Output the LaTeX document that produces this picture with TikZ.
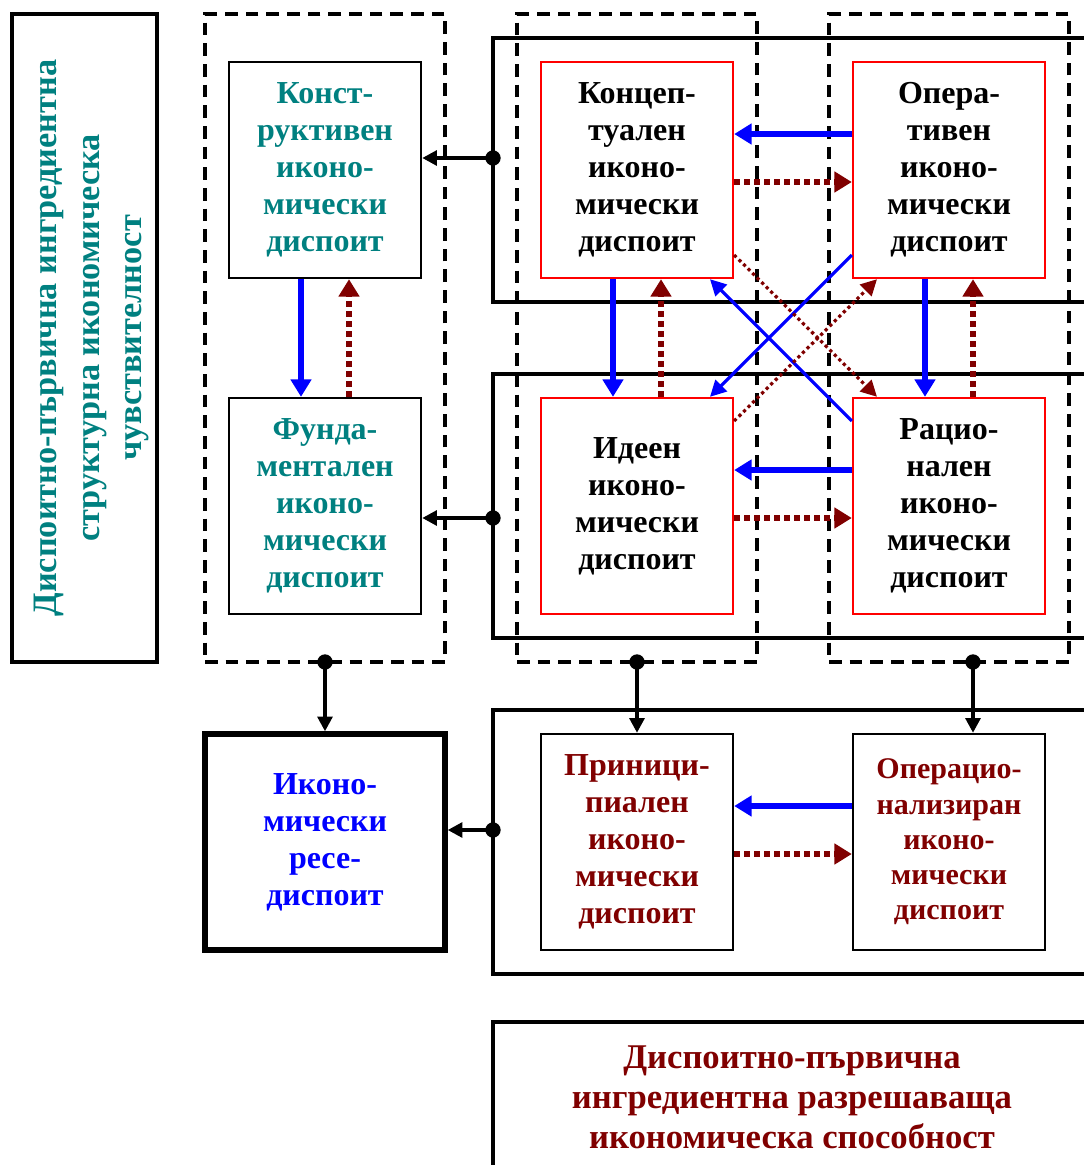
\documentclass[tikz,border=0pt]{standalone}
\usepackage{fontspec}
\setmainfont{Liberation Serif}
\usetikzlibrary{arrows.meta,calc}
\definecolor{tealc}{RGB}{0,128,128}
\definecolor{dred}{RGB}{128,0,0}
\definecolor{myblue}{RGB}{0,0,255}
\definecolor{myred}{RGB}{255,0,0}
\begin{document}
\begin{tikzpicture}[x=0.75pt,y=-0.75pt,
  txt/.style={font=\bfseries\fontsize{24}{27.75}\selectfont, align=center},
  box/.style={draw, line width=1.8pt, minimum width=144pt, minimum height=162pt, inner sep=0pt, txt},
  rbox/.style={box, draw=myred},
  dbox/.style={draw, line width=2.6pt, dash pattern=on 9.5pt off 6pt, minimum width=180pt, minimum height=486pt, inner sep=0pt},
  grp/.style={line width=2.6pt},
  conn/.style={line width=2.8pt, -{Triangle[length=11pt,width=11pt]}},
  dot/.style={circle, fill, inner sep=0pt, minimum size=11.5pt},
  bl/.style={myblue, line width=3.8pt, -{Triangle[length=13pt,width=15pt]}},
  rd/.style={dred, line width=3.8pt, dash pattern=on 4.5pt off 3pt, -{Triangle[length=13pt,width=15pt]}},
  bld/.style={myblue, line width=2.4pt, -{Triangle[length=12pt,width=12pt]}},
  rdd/.style={dred, line width=2.4pt, dash pattern=on 2.4pt off 2.4pt, -{Triangle[length=12pt,width=12pt]}},
]
\useasboundingbox (0,0) rectangle (1083,1165);

% group frames (open to the right)
\draw[grp] (1095,38) -- (493,38) -- (493,302) -- (1095,302);
\draw[grp] (1095,374) -- (493,374) -- (493,638) -- (1095,638);
\draw[grp] (1095,710) -- (493,710) -- (493,974) -- (1095,974);
\draw[grp] (1095,1022) -- (493,1022) -- (493,1175);

% dashed frames
\node[dbox] (dash1) at (325,338) {};
\node[dbox] (dash2) at (637,338) {};
\node[dbox] (dash3) at (949,338) {};

% left vertical box
\node[draw, line width=3pt, minimum width=108.75pt, minimum height=486pt, inner sep=0pt] (left) at (84.5,338) {};
\node[rotate=90, align=center, text=tealc, font=\bfseries\fontsize{25.7}{32}\selectfont] (lefttxt) at ($(left.center)+(7,0)$)
  {Диспоитно-първична ингредиентна\\структурна икономическа\\чувствителност};

% boxes
\node[box, text=tealc] (kons) at (325,170) {Конст-\\руктивен\\иконо-\\мически\\диспоит};
\node[box, text=tealc] (fund) at (325,506) {Фунда-\\ментален\\иконо-\\мически\\диспоит};
\node[rbox] (konc) at (637,170) {Концеп-\\туален\\иконо-\\мически\\диспоит};
\node[rbox] (oper) at (949,170) {Опера-\\тивен\\иконо-\\мически\\диспоит};
\node[rbox] (idee) at (637,506) {Идеен\\иконо-\\мически\\диспоит};
\node[rbox] (raci) at (949,506) {Рацио-\\нален\\иконо-\\мически\\диспоит};
\node[box, line width=4pt, minimum width=180pt, text=myblue] (rese) at (325,842) {Иконо-\\мически\\ресе-\\диспоит};
\node[box, text=dred] (prin) at (637,842) {Приници-\\пиален\\иконо-\\мически\\диспоит};
\node[box, text=dred, font=\bfseries\fontsize{22.5}{26.4}\selectfont] (opz) at (949,842) {Операцио-\\нализиран\\иконо-\\мически\\диспоит};

\node[txt, text=dred, font=\bfseries\fontsize{26}{30}\selectfont] (cap) at (792,1097)
  {Диспоитно-първична\\ингредиентна разрешаваща\\икономическа способност};

% dots and connectors
\node[dot] (d1) at (493,158) {};
\node[dot] (d2) at (493,518) {};
\node[dot] (d3) at (493,830) {};
\node[dot] (e1) at (325,662) {};
\node[dot] (e2) at (637,662) {};
\node[dot] (e3) at (973,662) {};
\draw[conn] (d1.center) -- (d1.center -| kons.east);
\draw[conn] (d2.center) -- (d2.center -| fund.east);
\draw[conn] (d3.center) -- (d3.center -| rese.east);
\draw[conn] (e1.center) -- (rese.north);
\draw[conn] (e2.center) -- (prin.north);
\draw[conn] (e3.center) -- (e3.center |- opz.north);

% vertical pairs
\draw[bl] ($(kons.south)+(-24,0)$) -- ($(fund.north)+(-24,0)$);
\draw[rd] ($(fund.north)+(24,0)$) -- ($(kons.south)+(24,0)$);
\draw[bl] ($(konc.south)+(-24,0)$) -- ($(idee.north)+(-24,0)$);
\draw[rd] ($(idee.north)+(24,0)$) -- ($(konc.south)+(24,0)$);
\draw[bl] ($(oper.south)+(-24,0)$) -- ($(raci.north)+(-24,0)$);
\draw[rd] ($(raci.north)+(24,0)$) -- ($(oper.south)+(24,0)$);

% horizontal pairs
\draw[bl] ($(oper.west)+(0,-36)$) -- ($(konc.east)+(0,-36)$);
\draw[rd] ($(konc.east)+(0,12)$) -- ($(oper.west)+(0,12)$);
\draw[bl] ($(raci.west)+(0,-36)$) -- ($(idee.east)+(0,-36)$);
\draw[rd] ($(idee.east)+(0,12)$) -- ($(raci.west)+(0,12)$);
\draw[bl] ($(opz.west)+(0,-36)$) -- ($(prin.east)+(0,-36)$);
\draw[rd] ($(prin.east)+(0,12)$) -- ($(opz.west)+(0,12)$);

% diagonals
\draw[bld] ($(oper.west)+(0,85)$) -- ($(idee.north)+(73,0)$);
\draw[bld] ($(raci.west)+(0,-85)$) -- ($(konc.south)+(73,0)$);
\draw[rdd] ($(konc.east)+(0,85)$) -- ($(raci.north)+(-72,0)$);
\draw[rdd] ($(idee.east)+(0,-85)$) -- ($(oper.south)+(-72,0)$);
\end{tikzpicture}
\end{document}
